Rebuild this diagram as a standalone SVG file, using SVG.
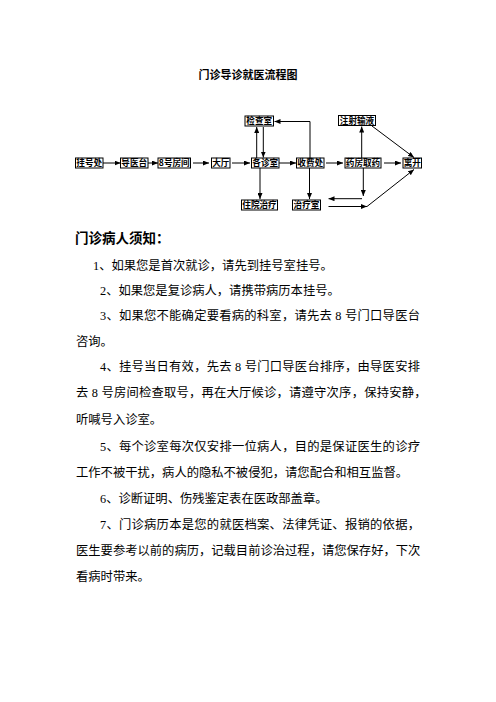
<svg xmlns="http://www.w3.org/2000/svg" width="496" height="702" viewBox="0 0 496 702">
<style>
.box{fill:#fff;stroke:#000;stroke-width:1}
.bt{font-family:"Noto Sans CJK SC",sans-serif;font-size:8.6px;font-weight:bold;text-anchor:middle;fill:#000}
.ln{fill:none;stroke:#000;stroke-width:1;marker-end:url(#ah)}
.title{font-family:"Noto Sans CJK SC",sans-serif;font-size:11px;font-weight:bold;text-anchor:middle;fill:#000}
.head{font-family:"Noto Sans CJK SC",sans-serif;font-size:13.5px;font-weight:bold;fill:#000}
.body{font-family:"Liberation Serif","Noto Sans CJK SC",serif;font-size:12.3px;fill:#000}
</style>
<defs>
<marker id="ah" markerUnits="userSpaceOnUse" markerWidth="6" markerHeight="5" refX="6" refY="2.5" orient="auto">
<path d="M0,0 L6,2.5 L0,5 z" fill="#000"/>
</marker>
</defs>
<rect width="496" height="702" fill="#fff"/>
<text class="title" x="248" y="79">门诊导诊就医流程图</text>

<g id="connectors">
<line class="ln" x1="103" y1="163" x2="120.5" y2="163"/>
<line class="ln" x1="148" y1="163" x2="158" y2="163"/>
<line class="ln" x1="193" y1="163" x2="209" y2="163"/>
<line class="ln" x1="232" y1="163" x2="250" y2="163"/>
<line class="ln" x1="279" y1="163" x2="296" y2="163"/>
<line class="ln" x1="326" y1="163" x2="343" y2="163"/>
<line class="ln" x1="384" y1="163" x2="401" y2="163"/>
<line class="ln" x1="256.7" y1="158" x2="256.7" y2="127"/>
<line class="ln" x1="263.3" y1="127" x2="263.3" y2="157.5"/>
<polyline class="ln" points="310,158 310,121.5 274.5,121.5"/>
<line class="ln" x1="260" y1="168" x2="260" y2="199"/>
<line class="ln" x1="309.5" y1="168" x2="309.5" y2="199"/>
<line class="ln" x1="361.7" y1="158" x2="361.7" y2="126.5"/>
<line class="ln" x1="372" y1="126" x2="414" y2="157.5"/>
<line class="ln" x1="363.3" y1="168" x2="363.3" y2="196"/>
<line class="ln" x1="362" y1="198.7" x2="328.5" y2="198.7"/>
<line class="ln" x1="328.5" y1="206.5" x2="367" y2="206.5"/>
<line class="ln" x1="367" y1="206.5" x2="414" y2="169.5"/>
</g>

<g id="n-guahaochu"><rect class="box" x="75.5" y="158" width="27.5" height="10"/><text class="bt" x="89.25" y="166.1">挂号处</text></g>
<g id="n-daoyitai"><rect class="box" x="120.5" y="158" width="27.5" height="10"/><text class="bt" x="134.25" y="166.1">导医台</text></g>
<g id="n-8hao"><rect class="box" x="158" y="158" width="32.5" height="10"/><text class="bt" x="174.25" y="166.1">8号房间</text></g>
<g id="n-dating"><rect class="box" x="211.5" y="158" width="18.5" height="10"/><text class="bt" x="220.75" y="166.1">大厅</text></g>
<g id="n-gezhenshi"><rect class="box" x="251.5" y="158" width="27.5" height="10"/><text class="bt" x="265.25" y="166.1">各诊室</text></g>
<g id="n-shoufeichu"><rect class="box" x="296.5" y="158" width="27.5" height="10"/><text class="bt" x="310.25" y="166.1">收费处</text></g>
<g id="n-yaofang"><rect class="box" x="345" y="158" width="36" height="10"/><text class="bt" x="363" y="166.1">药房取药</text></g>
<g id="n-likai"><rect class="box" x="403" y="158" width="18.5" height="10"/><text class="bt" x="412.25" y="166.1">离开</text></g>
<g id="n-jianchashi"><rect class="box" x="245" y="116" width="28.5" height="10"/><text class="bt" x="259.25" y="124.1">检查室</text></g>
<g id="n-zhushe"><rect class="box" x="338.5" y="115.5" width="37" height="10"/><text class="bt" x="357" y="123.6">注射输液</text></g>
<g id="n-zhuyuan"><rect class="box" x="241.5" y="200" width="36" height="10"/><text class="bt" x="259.5" y="208.1">住院治疗</text></g>
<g id="n-zhiliaoshi"><rect class="box" x="292.5" y="200" width="28" height="10"/><text class="bt" x="306.5" y="208.1">治疗室</text></g>

<text class="head" x="75" y="243.3">门诊病人须知：</text>
<text class="body" x="93" y="269.6">1、如果您是首次就诊，请先到挂号室挂号。</text>
<text class="body" x="100" y="295.3">2、如果您是复诊病人，请携带病历本挂号。</text>
<text class="body" x="100" y="320.3" textLength="320" lengthAdjust="spacing">3、如果您不能确定要看病的科室，请先去 8 号门口导医台</text>
<text class="body" x="76" y="346">咨询。</text>
<text class="body" x="100" y="371.3" textLength="320" lengthAdjust="spacing">4、挂号当日有效，先去 8 号门口导医台排序，由导医安排</text>
<text class="body" x="76" y="397.3" textLength="350.5" lengthAdjust="spacing">去 8 号房间检查取号，再在大厅候诊，请遵守次序，保持安静，</text>
<text class="body" x="76" y="424">听喊号入诊室。</text>
<text class="body" x="100" y="450.6" textLength="320" lengthAdjust="spacing">5、每个诊室每次仅安排一位病人，目的是保证医生的诊疗</text>
<text class="body" x="76" y="477.3">工作不被干扰，病人的隐私不被侵犯，请您配合和相互监督。</text>
<text class="body" x="100" y="503">6、诊断证明、伤残鉴定表在医政部盖章。</text>
<text class="body" x="100" y="529" textLength="320" lengthAdjust="spacing">7、门诊病历本是您的就医档案、法律凭证、报销的依据，</text>
<text class="body" x="76" y="555.3">医生要参考以前的病历，记载目前诊治过程，请您保存好，下次</text>
<text class="body" x="76" y="581.3">看病时带来。</text>
</svg>
